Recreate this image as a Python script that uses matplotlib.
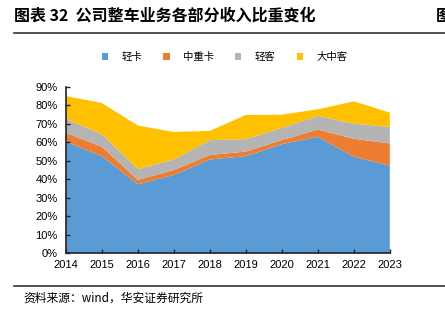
import matplotlib
matplotlib.use("Agg")
import matplotlib.pyplot as plt
from matplotlib.patches import Patch
from matplotlib.lines import Line2D
from matplotlib.ticker import PercentFormatter

plt.rcParams['font.family'] = ['Noto Sans CJK SC', 'DejaVu Sans']

years = [2014, 2015, 2016, 2017, 2018, 2019, 2020, 2021, 2022, 2023]
light_truck = [60.3, 52.5, 37.2, 42.3, 50.7, 52.5, 59.0, 63.0, 52.2, 47.3]
heavy_truck = [4.8, 5.1, 2.4, 2.7, 2.4, 2.5, 2.2, 3.9, 9.7, 12.1]
light_bus = [7.7, 6.8, 5.9, 5.7, 8.1, 6.7, 6.6, 7.4, 8.2, 8.9]
big_bus = [12.3, 16.9, 23.6, 14.9, 5.0, 13.1, 7.2, 3.6, 12.1, 7.8]

names = ["轻卡", "中重卡", "轻客", "大中客"]
colors = ["#5B9BD5", "#ED7D31", "#B4B4B4", "#FFC000"]

fig = plt.figure(figsize=(4.45, 3.21), dpi=100)
ax = fig.add_axes([0.148, 0.212, 0.728, 0.517])

ax.stackplot(years, light_truck, heavy_truck, light_bus, big_bus,
             colors=colors, linewidth=0)

ax.set_xlim(2014, 2023)
ax.set_ylim(0, 90)
ax.set_xticks(years)
ax.set_yticks(range(0, 91, 10))
ax.yaxis.set_major_formatter(PercentFormatter(decimals=0))
for lbl in ax.get_xticklabels() + ax.get_yticklabels():
    lbl.set_family(['Liberation Sans', 'DejaVu Sans'])
ax.tick_params(direction='in', length=3, width=1, labelsize=8,
               color='#222222')
ax.tick_params(axis='x', pad=5)
ax.tick_params(axis='y', pad=6)
for s in ['top', 'right']:
    ax.spines[s].set_visible(False)
for s in ['left', 'bottom']:
    ax.spines[s].set_color('#222222')
    ax.spines[s].set_linewidth(1.2)

handles = [Patch(facecolor=c, edgecolor='none') for c in colors]
fig.legend(handles, names, loc='center', bbox_to_anchor=(0.505, 1 - 57 / 321),
           ncol=4, frameon=False, fontsize=7.5, handlelength=0.6,
           handleheight=0.6, handletextpad=1.3, columnspacing=2.0)

fig.text(14 / 445, 1 - 16 / 321, "图表 32  公司整车业务各部分收入比重变化",
         fontsize=11.5, fontweight='bold', va='center', ha='left')
fig.text(436 / 445, 1 - 16 / 321, "图", fontsize=11.5, fontweight='bold',
         va='center', ha='left')
fig.add_artist(Line2D([14 / 445, 1], [1 - 33 / 321] * 2, color='#333333', lw=1.2))
fig.add_artist(Line2D([14 / 445, 1], [1 - 286 / 321] * 2, color='#333333', lw=1.2))
fig.text(23 / 445, 1 - 298 / 321, "资料来源：wind，华安证券研究所",
         fontsize=8.5, va='center', ha='left')

fig.savefig("out.png", dpi=100)
